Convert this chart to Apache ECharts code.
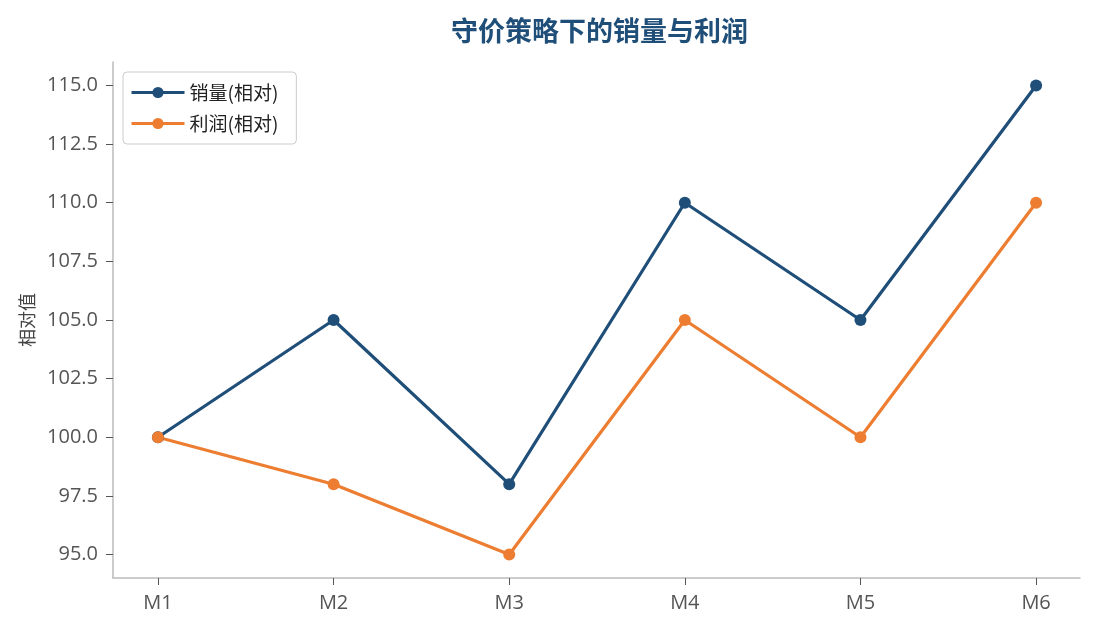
<!DOCTYPE html>
<html>
<head>
<meta charset="utf-8">
<script src="https://cdn.jsdelivr.net/npm/echarts@6/dist/echarts.min.js"></script>
<style>
  html, body { margin: 0; padding: 0; background: #fff; }
  #chart { width: 1095px; height: 630px; }
</style>
</head>
<body>
<div id="chart"></div>
<script>
// data
var categories = ['M1', 'M2', 'M3', 'M4', 'M5', 'M6'];
var sales = [100, 105, 98, 110, 105, 115];
var profit = [100, 98, 95, 105, 100, 110];
var yTicks = [95, 97.5, 100, 102.5, 105, 107.5, 110, 112.5, 115];
var xTicks = [1, 2, 3, 4, 5, 6];

function toPoints(arr) {
  return arr.map(function (v, i) { return [i + 1, v]; });
}

var font = '"Noto Sans CJK SC", "Noto Sans", sans-serif';
var numFont = '"Open Sans", "Noto Sans", sans-serif';
var chart = echarts.init(document.getElementById('chart'));

chart.setOption({
  backgroundColor: '#fff',
  animation: false,
  title: {
    text: '守价策略下的销量与利润',
    left: 446,
    top: 12,
    textStyle: { fontFamily: font, fontSize: 27, fontWeight: 'bold', color: '#1f4e79' }
  },
  legend: {
    orient: 'vertical',
    left: 123,
    top: 72,
    padding: [11, 18, 11, 7],
    itemGap: 12,
    itemWidth: 53,
    itemHeight: 14,
    borderColor: '#cccccc',
    borderWidth: 1,
    borderRadius: 4,
    lineStyle: { width: 3 },
    textStyle: { fontFamily: font, fontSize: 19, color: '#222' },
    data: ['销量(相对)', '利润(相对)']
  },
  grid: { left: 113, right: 15, top: 62, bottom: 52 },
  xAxis: {
    type: 'value',
    min: 0.744,
    max: 6.25,
    axisLine: { show: true, lineStyle: { color: '#bbbbbb', width: 1.5 } },
    axisTick: { show: true, customValues: xTicks, length: 7, lineStyle: { color: '#555' } },
    axisLabel: {
      customValues: xTicks,
      formatter: function (v) { return categories[v - 1]; },
      fontFamily: numFont, fontSize: 20, color: '#555', margin: 15
    },
    splitLine: { show: false }
  },
  yAxis: {
    type: 'value',
    min: 94,
    max: 116,
    name: '相对值',
    nameLocation: 'middle',
    nameGap: 77,
    nameTextStyle: { fontFamily: font, fontSize: 18, color: '#444' },
    axisLine: { show: true, lineStyle: { color: '#bbbbbb', width: 1.5 } },
    axisTick: { show: true, customValues: yTicks, length: 7, lineStyle: { color: '#555' } },
    axisLabel: {
      customValues: yTicks,
      formatter: function (v) { return v.toFixed(1); },
      fontFamily: numFont, fontSize: 20, color: '#555', margin: 15
    },
    splitLine: { show: false }
  },
  series: [
    {
      name: '销量(相对)',
      type: 'line',
      data: toPoints(sales),
      symbol: 'circle',
      symbolSize: 12,
      lineStyle: { width: 3.2, color: '#1f4e79' },
      itemStyle: { color: '#1f4e79' }
    },
    {
      name: '利润(相对)',
      type: 'line',
      data: toPoints(profit),
      symbol: 'circle',
      symbolSize: 12,
      lineStyle: { width: 3.2, color: '#ed7d31' },
      itemStyle: { color: '#ed7d31' }
    }
  ]
});
</script>
</body>
</html>
